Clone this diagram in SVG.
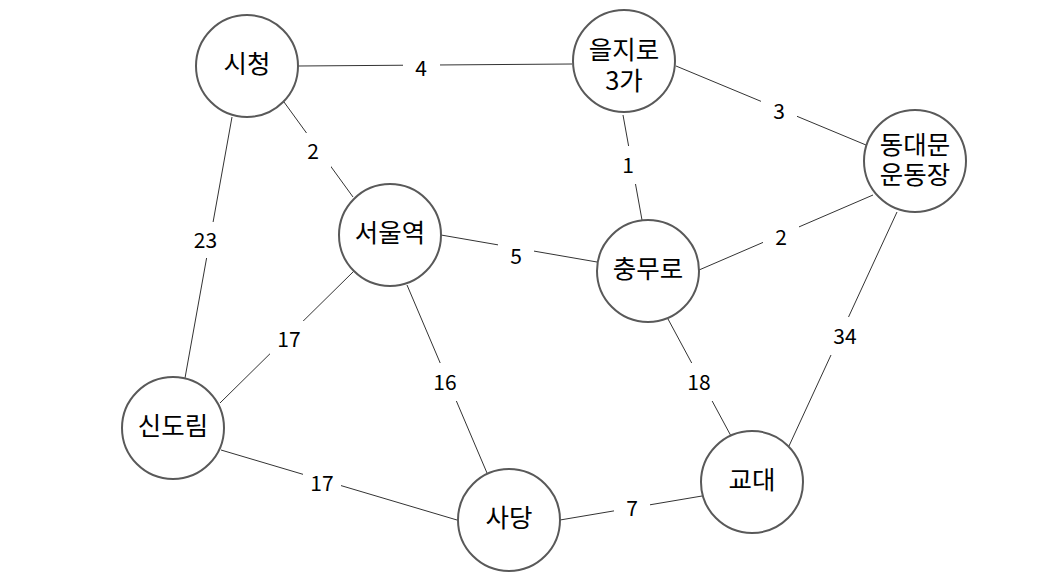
<svg xmlns="http://www.w3.org/2000/svg" width="1061" height="583" viewBox="0 0 1061 583">
<style>
.edge{stroke:#333;stroke-width:1;fill:none}
.lbg{fill:#fff}
.lbl{font-family:"Noto Sans CJK KR","Open Sans",sans-serif;font-size:21px;fill:#000;text-anchor:middle}
.node circle{fill:#fff;stroke:#595959;stroke-width:2}
.node text{font-family:"Noto Sans CJK KR",sans-serif;font-size:25.5px;fill:#000;text-anchor:middle}
</style>
<rect width="1061" height="583" fill="#fff"/>
<g id="connectors">
<line class="edge" x1="298" y1="66" x2="572" y2="64"/>
<line class="edge" x1="676" y1="66" x2="866" y2="145"/>
<line class="edge" x1="623" y1="115" x2="642" y2="220"/>
<line class="edge" x1="284" y1="102" x2="353" y2="197"/>
<line class="edge" x1="232" y1="117" x2="185" y2="378"/>
<line class="edge" x1="441" y1="235" x2="597" y2="262"/>
<line class="edge" x1="699" y1="270" x2="873" y2="195"/>
<line class="edge" x1="897" y1="212" x2="789" y2="446"/>
<line class="edge" x1="354" y1="271" x2="220" y2="403"/>
<line class="edge" x1="407" y1="285" x2="487" y2="473"/>
<line class="edge" x1="668" y1="319" x2="731" y2="436"/>
<line class="edge" x1="221" y1="450" x2="457" y2="520"/>
<line class="edge" x1="560" y1="520" x2="702" y2="496"/>
<rect class="lbg" x="403" y="50" width="37" height="36"/>
<rect class="lbg" x="761" y="93" width="36" height="36"/>
<rect class="lbg" x="610" y="146" width="36" height="38"/>
<rect class="lbg" x="295" y="133" width="36" height="36"/>
<rect class="lbg" x="187" y="222" width="37" height="36"/>
<rect class="lbg" x="498" y="238" width="36" height="36"/>
<rect class="lbg" x="763" y="219" width="36" height="36"/>
<rect class="lbg" x="826" y="317" width="38" height="38"/>
<rect class="lbg" x="270" y="321" width="38" height="36"/>
<rect class="lbg" x="426" y="363" width="38" height="38"/>
<rect class="lbg" x="680" y="363" width="38" height="38"/>
<rect class="lbg" x="303" y="464" width="38" height="36"/>
<rect class="lbg" x="614" y="490" width="36" height="36"/>
<text class="lbl" x="421" y="75.5">4</text>
<text class="lbl" x="779" y="119">3</text>
<text class="lbl" x="628" y="173">1</text>
<text class="lbl" x="313" y="159">2</text>
<text class="lbl" x="205.5" y="248">23</text>
<text class="lbl" x="516" y="264">5</text>
<text class="lbl" x="781" y="245">2</text>
<text class="lbl" x="845" y="344">34</text>
<text class="lbl" x="289" y="347">17</text>
<text class="lbl" x="445" y="390">16</text>
<text class="lbl" x="699" y="390">18</text>
<text class="lbl" x="322" y="490.5">17</text>
<text class="lbl" x="632" y="516">7</text>
</g>
<g id="node-sicheong" class="node"><circle cx="247" cy="66" r="51"/><text x="247" y="72.5">시청</text></g>
<g id="node-euljiro3ga" class="node"><circle cx="624" cy="61" r="51"/><text x="624" y="58.5">을지로</text><text x="624" y="89.5">3가</text></g>
<g id="node-dongdaemun" class="node"><circle cx="915" cy="161" r="51"/><text x="915" y="154">동대문</text><text x="915" y="183.5">운동장</text></g>
<g id="node-seoulyeok" class="node"><circle cx="390" cy="235" r="51"/><text x="390" y="242">서울역</text></g>
<g id="node-chungmuro" class="node"><circle cx="648" cy="271" r="51"/><text x="648" y="278">충무로</text></g>
<g id="node-sindorim" class="node"><circle cx="173" cy="428" r="51"/><text x="173" y="435">신도림</text></g>
<g id="node-sadang" class="node"><circle cx="509" cy="520" r="51"/><text x="509" y="527">사당</text></g>
<g id="node-gyodae" class="node"><circle cx="752" cy="482" r="51"/><text x="752" y="489">교대</text></g>
</svg>
